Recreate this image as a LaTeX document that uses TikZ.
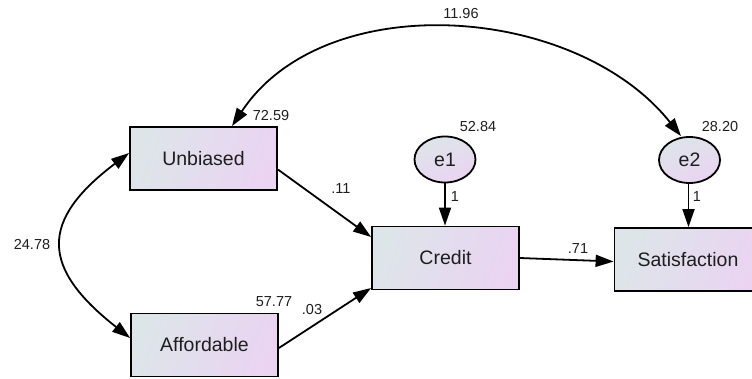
\documentclass[tikz,border=0pt]{standalone}
\usepackage{fontspec}
\setmainfont{Liberation Sans}
\usetikzlibrary{arrows.meta,shapes.geometric,calc}
\definecolor{fillL}{RGB}{221,229,233}
\definecolor{fillR}{RGB}{234,212,242}
\definecolor{txt}{RGB}{30,30,30}
\tikzset{
  obsbox/.style={draw=black, line width=1.8pt, minimum width=147pt, minimum height=63pt,
    inner sep=0pt, left color=fillL, right color=fillR, shading angle=70,
    font=\fontsize{19.5}{22}\selectfont, text=txt},
  errnode/.style={ellipse, draw=black, line width=1.8pt, minimum width=61pt, minimum height=46pt,
    inner sep=0pt, left color=fillL, right color=fillR, shading angle=20,
    font=\fontsize{19.5}{22}\selectfont, text=txt},
  val/.style={font=\fontsize{14.5}{16}\selectfont, text=txt, inner sep=0pt},
  conn/.style={line width=1.8pt, -{Triangle[length=18pt,width=12pt]}},
  cov/.style={line width=1.8pt, {Triangle[length=18pt,width=12pt]}-{Triangle[length=18pt,width=12pt]}},
}
\begin{document}
\begin{tikzpicture}[x=1pt,y=-1pt]
\useasboundingbox (0,0) rectangle (752,378);
\node[obsbox] (unb) at (203.5,158.5) {Unbiased};
\node[obsbox] (aff) at (204.5,345) {Affordable};
\node[obsbox] (cre) at (445.5,258) {Credit};
\node[obsbox] (sat) at (688,259.5) {Satisfaction};
\node[errnode] (e1) at (445,159.5) {e1};
\node[errnode] (e2) at (689.5,160) {e2};

\draw[conn] ([yshift=-11pt]unb.east) -- ([yshift=21pt]cre.west);
\draw[conn] ([yshift=-3pt]aff.east) -- ([yshift=-30pt]cre.west);
\draw[conn] (cre.east) -- ([yshift=-2pt]sat.west);
\draw[conn] (e1.south) -- (e1.south |- cre.north);
\draw[conn] ([xshift=-1pt]e2.south) -- ([xshift=-1pt]e2.south |- sat.north);

\draw[cov] ([xshift=28.5pt]unb.north) .. controls (325,-14) and (576,4) .. ([xshift=-8.5pt]e2.north);
\draw[cov] ([yshift=5.5pt]unb.west) .. controls (39,221) and (41,268) .. ([yshift=7pt]aff.west);

\node[val] (v1) at (271,116) {72.59};
\node[val] (v2) at (478,127) {52.84};
\node[val] (v3) at (720,127) {28.20};
\node[val] (v4) at (461,14) {11.96};
\node[val] (v5) at (274,302) {57.77};
\node[val] (v6) at (312,310) {.03};
\node[val] (v7) at (32,245) {24.78};
\node[val] (v8) at (341,189) {.11};
\node[val] (v9) at (578,249) {.71};
\node[val] (v10) at (455,197) {1};
\node[val] (v11) at (697,197) {1};
\end{tikzpicture}
\end{document}
